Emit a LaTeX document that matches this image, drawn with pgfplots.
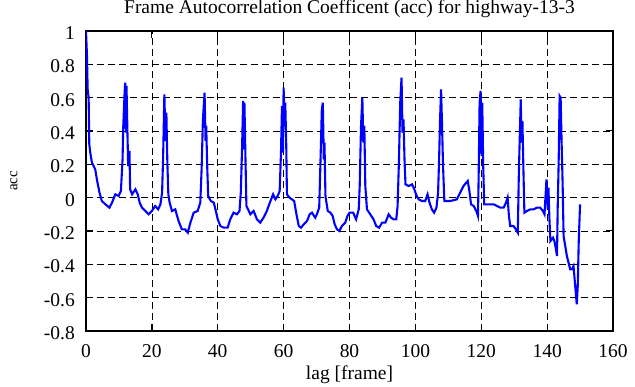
\documentclass[border=0pt]{standalone}
\usepackage{fontspec}
\setmainfont{Liberation Serif}
\usepackage{pgfplots}
\pgfplotsset{compat=1.18}
\begin{document}
\begin{tikzpicture}
\useasboundingbox (-86pt,-56pt) rectangle (549pt,331pt);
\begin{axis}[
  at={(0pt,0pt)}, anchor=south west,
  width=527pt, height=300pt, scale only axis,
  xmin=0, xmax=160, ymin=-0.8, ymax=1,
  xtick={0,20,40,60,80,100,120,140,160},
  xticklabels={0,20,40,60,80,100,120,140,160},
  ytick={-0.8,-0.6,-0.4,-0.2,0,0.2,0.4,0.6,0.8,1},
  yticklabels={-0.8,-0.6,-0.4,-0.2,0,0.2,0.4,0.6,0.8,1},
  grid=major,
  major grid style={black, line width=0.7pt, dash pattern=on 7pt off 4pt},
  axis line style={black, line width=1.6pt},
  tick style={black, line width=1pt},
  major tick length=7pt,
  tick align=inside,
  tick pos=both,
  ticklabel style={font=\fontsize{19.5}{22}\selectfont},
  xticklabel style={anchor=base, inner sep=0pt, yshift=-27pt},
  yticklabel style={anchor=east, inner sep=0pt, xshift=-11pt, yshift=-2pt},
  every axis title shift=0pt,
  title={Frame Autocorrelation Coefficent (acc) for highway-13-3},
  title style={font=\fontsize{19.5}{22}\selectfont, at={(axis description cs:0.5,1)}, anchor=base, yshift=17pt, inner sep=0pt},
  xlabel={lag [frame]},
  xlabel style={font=\fontsize{19.5}{22}\selectfont, at={(axis description cs:0.5,0)}, anchor=base, yshift=-49pt, inner sep=0pt},
  ylabel={acc},
  ylabel style={font=\fontsize{15}{17}\selectfont, at={([xshift=-72pt]axis description cs:0,0.5)}, anchor=center, inner sep=0pt},
]
\addplot[color={rgb,255:red,0;green,0;blue,255}, line width=2.1pt, mark=none] coordinates {
(0,1.0) (0.3,0.85) (0.5,0.65) (0.8,0.60) (1.0,0.32) (1.3,0.27) (1.8,0.21) (2.8,0.17) (3.3,0.11) (4.1,0.03)
(4.8,-0.02) (5.9,-0.04) (7.1,-0.06) (7.9,-0.03) (8.9,0.02) (9.9,0.01) (10.6,0.04) (11.1,0.23) (11.3,0.42) (11.7,0.62)
(11.9,0.69) (12.1,0.39) (12.3,0.67) (12.5,0.47) (12.8,0.19) (13.2,0.28) (13.4,0.05) (14,0.02) (15,0.05) (15.7,0.02)
(16.3,-0.03) (17,-0.06) (18,-0.08) (19,-0.10) (20,-0.08) (21,-0.05) (21.9,-0.07) (22.6,-0.04) (23.1,0.03) (23.4,0.23)
(23.8,0.62) (24.1,0.34) (24.4,0.51) (24.7,0.21) (25,0.02) (25.4,-0.03) (26.1,-0.08) (27.1,-0.07) (28.1,-0.14) (29.1,-0.19)
(30.1,-0.19) (30.9,-0.21) (31.7,-0.15) (32.7,-0.09) (33.9,-0.08) (34.7,-0.03) (35.1,0.17) (35.5,0.47) (36,0.63) (36.3,0.34)
(36.5,0.43) (36.8,0.19) (37.1,0.01) (37.9,-0.02) (38.8,-0.03) (39.3,-0.07) (40,-0.13) (40.8,-0.17) (41.8,-0.18) (43,-0.18)
(43.8,-0.13) (44.8,-0.09) (45.8,-0.10) (46.6,-0.08) (47,0.03) (47.4,0.31) (47.7,0.58) (47.9,0.29) (48.1,0.57) (48.4,0.25)
(48.7,-0.05) (49.2,-0.07) (49.9,-0.10) (50.9,-0.08) (51.9,-0.13) (52.9,-0.15) (53.9,-0.12) (54.9,-0.08) (56,-0.02) (56.8,0.02)
(57.5,-0.01) (58.2,0.01) (58.8,0.04) (59.2,0.27) (59.5,0.55) (59.8,0.27) (60,0.66) (60.3,0.43) (60.5,0.57) (60.8,0.31)
(61,0.02) (61.8,0.00) (62.5,-0.01) (63.2,-0.02) (63.9,-0.10) (64.6,-0.17) (65.3,-0.18) (66.1,-0.16) (67.1,-0.14) (67.9,-0.10)
(68.6,-0.09) (69.6,-0.12) (70.1,-0.10) (70.8,-0.06) (71.1,0.15) (71.6,0.53) (71.9,0.57) (72.2,0.23) (72.4,0.33) (72.7,0.01)
(73.4,-0.08) (74.2,-0.09) (74.9,-0.11) (75.5,-0.16) (76.2,-0.19) (76.9,-0.20) (77.7,-0.17) (78.7,-0.15) (79.4,-0.11) (80,-0.09)
(81.1,-0.09) (82,-0.13) (82.8,-0.07) (83.1,0.07) (83.5,0.43) (83.9,0.60) (84.2,0.33) (84.5,0.43) (84.8,0.07) (85.3,-0.07)
(86.3,-0.10) (87.3,-0.13) (88.1,-0.17) (89,-0.18) (89.9,-0.15) (90.9,-0.15) (91.9,-0.10) (92.6,-0.12) (93.4,-0.13) (94.2,-0.13)
(94.6,-0.05) (95,0.21) (95.4,0.57) (95.8,0.72) (96.1,0.39) (96.4,0.47) (96.7,0.23) (97,0.08) (98,0.07) (99,0.08)
(99.5,0.06) (100.2,0.02) (101,-0.01) (102,-0.02) (103,-0.02) (103.7,0.02) (104.3,-0.03) (105,-0.07) (105.7,-0.09) (106.4,-0.06)
(106.9,0.03) (107.2,0.23) (107.5,0.47) (107.8,0.65) (108.1,0.43) (108.4,0.19) (108.8,-0.02) (109.6,-0.02) (110.6,-0.02) (112.6,-0.01)
(113.6,0.03) (114.6,0.07) (115.9,0.10) (116.4,0.04) (116.9,-0.04) (117.7,-0.05) (118.5,-0.08) (119,-0.11) (119.2,0.11) (119.5,0.57)
(119.8,0.64) (120.1,0.25) (120.3,0.57) (120.6,0.19) (120.9,-0.04) (121.7,-0.04) (122.7,-0.04) (123.8,-0.04) (124.8,-0.05) (125.8,-0.06)
(126.8,-0.06) (127.5,-0.03) (128,0.00) (128.4,-0.11) (128.8,-0.17) (129.8,-0.17) (130.5,-0.19) (131.1,-0.21) (131.4,0.13) (131.7,0.37)
(132,0.59) (132.2,0.33) (132.5,0.46) (132.8,0.17) (133.1,-0.09) (133.9,-0.08) (134.9,-0.07) (135.9,-0.07) (136.9,-0.06) (137.9,-0.06)
(138.7,-0.08) (139.2,-0.10) (139.6,0.04) (139.8,0.11) (140.2,-0.07) (140.4,0.06) (140.7,-0.13) (141,-0.26) (141.4,-0.25) (141.8,-0.24)
(142.2,-0.26) (142.6,-0.30) (143,-0.35) (143.2,-0.07) (143.5,0.21) (143.8,0.61) (144.1,0.60) (144.4,0.33) (144.7,0.09) (145,-0.23)
(145.5,-0.29) (146,-0.35) (146.5,-0.39) (147,-0.43) (147.5,-0.43) (148,-0.41) (148.4,-0.50) (148.7,-0.57) (149,-0.64) (149.3,-0.53)
(149.6,-0.26) (150,-0.04)
};
\end{axis}
\end{tikzpicture}
\end{document}
